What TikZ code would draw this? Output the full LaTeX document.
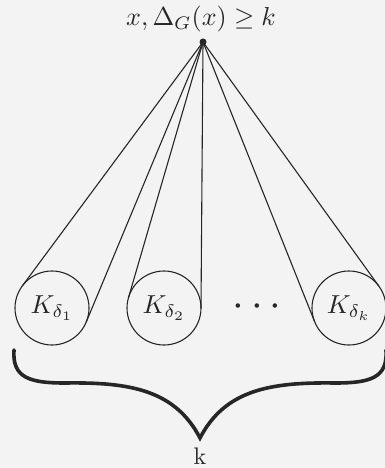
\documentclass[tikz,border=0pt]{standalone}
\usepackage{fix-cm}
\usepackage{graphicx}
\usetikzlibrary{calc}
\definecolor{bg}{RGB}{243,243,243}
\definecolor{ink}{RGB}{38,38,38}
\tikzset{
  ball/.style={circle,draw=ink,line width=1.1pt,minimum size=74pt,inner sep=0pt,outer sep=0pt,text=ink},
  apex/.style={circle,fill=ink,minimum size=7pt,inner sep=0pt},
  spoke/.style={draw=ink,line width=1.1pt},
  bracepath/.style={draw=ink,line width=3.6pt,line cap=round},
  lbl/.style={inner sep=0pt,text=ink}
}
\begin{document}
\begin{tikzpicture}[x=1pt,y=-1pt]
\fill[bg] (0,0) rectangle (385,468);
\useasboundingbox (0,0) rectangle (385,468);
\node[lbl] (top) at (201,19) {\scalebox{2.6}{$x,\Delta_G(x)\geq k$}};
\node[apex] (x) at (203,42) {};
\node[ball] (k1) at (52,308) {\scalebox{2.6}{$K_{\delta_1}$}};
\node[ball] (k2) at (164,308) {\scalebox{2.6}{$K_{\delta_2}$}};
\node[ball] (kk) at (349,308) {\scalebox{2.6}{$K_{\delta_k}$}};
\node[lbl] (dots) at (257,307) {\scalebox{4.2}{$\cdots$}};
\foreach \n in {k1,k2,kk}{
  \draw[spoke] (x.center) -- (tangent cs:node=\n,point={(x.center)},solution=1);
  \draw[spoke] (x.center) -- (tangent cs:node=\n,point={(x.center)},solution=2);
}
\coordinate (bl) at (14,350);
\coordinate (btip) at (200,438);
\coordinate (br) at (386,350);
\draw[bracepath] (bl) .. controls (12,378) and (30,383) .. (65,383)
  .. controls (130,382) and (175,390) .. (btip)
  .. controls (225,390) and (270,382) .. (335,383)
  .. controls (370,383) and (388,378) .. (br);
\node[lbl] (klbl) at (200,456) {\scalebox{2.4}{k}};
\end{tikzpicture}
\end{document}
